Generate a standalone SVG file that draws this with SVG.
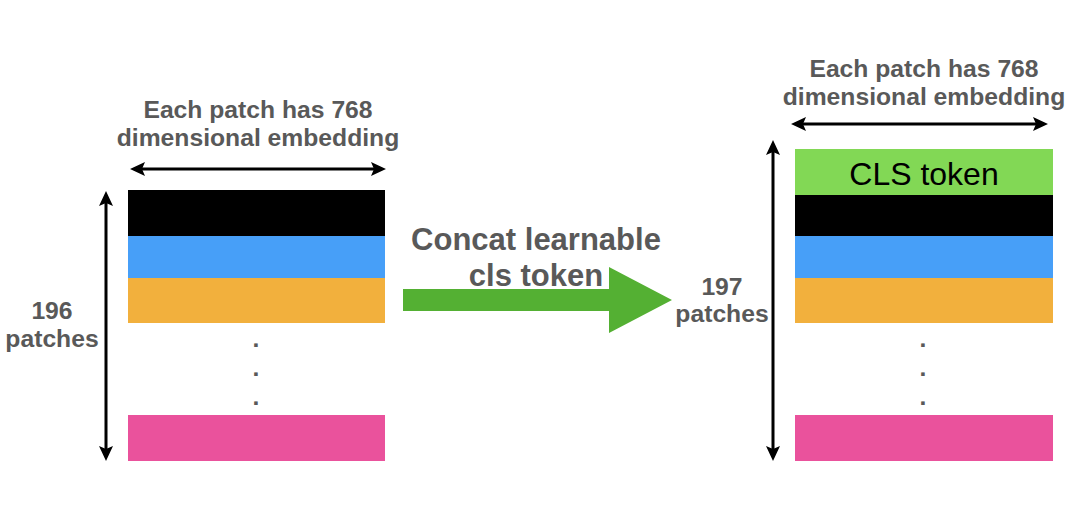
<svg xmlns="http://www.w3.org/2000/svg" width="1081" height="510" viewBox="0 0 1081 510">
  <style>
    .lbl { font-family: "Liberation Sans", Arial, sans-serif; font-weight: bold; fill: #595959; text-anchor: middle; }
    .small { font-size: 24.7px; }
    .big { font-size: 31px; }
    .dim { stroke: #000; stroke-width: 3; fill: none; marker-start: url(#ah); marker-end: url(#ah); }
    .cls { font-family: "Liberation Sans", Arial, sans-serif; font-size: 32px; fill: #000; text-anchor: middle; }
  </style>
  <defs>
    <marker id="ah" viewBox="0 0 15 14" refX="11" refY="7" markerWidth="15" markerHeight="14" markerUnits="userSpaceOnUse" orient="auto-start-reverse">
      <path d="M0,0 L15,7 L0,14 L3,7 Z" fill="#000"/>
    </marker>
  </defs>
  <rect width="1081" height="510" fill="#fff"/>

  <g id="connectors">
    <line class="dim" x1="134" y1="169" x2="382" y2="169"/>
    <line class="dim" x1="106" y1="195" x2="106" y2="457"/>
    <line class="dim" x1="795" y1="124" x2="1044" y2="124"/>
    <line class="dim" x1="773" y1="144" x2="773" y2="457"/>
    <polygon id="concat-arrow" points="403,289 609,289 609,267 672,300 609,333 609,311 403,311" fill="#54b033"/>
  </g>

  <g id="left-stack">
    <rect x="128" y="190" width="257" height="46" fill="#000"/>
    <rect x="128" y="236" width="257" height="42" fill="#479ff8"/>
    <rect x="128" y="278" width="257" height="45" fill="#f2b03d"/>
    <rect x="128" y="415" width="257" height="46" fill="#ea529c"/>
    <text class="lbl small" x="256"><tspan x="256" y="347">.</tspan><tspan x="256" y="376">.</tspan><tspan x="256" y="405">.</tspan></text>
  </g>

  <g id="left-labels">
    <text class="lbl small"><tspan x="258" y="118">Each patch has 768</tspan><tspan x="258" y="146">dimensional embedding</tspan></text>
    <text class="lbl small"><tspan x="52" y="319">196</tspan><tspan x="52" y="347">patches</tspan></text>
  </g>

  <g id="concat-label">
    <text class="lbl big"><tspan x="536" y="250">Concat learnable</tspan><tspan x="536" y="286">cls token</tspan></text>
  </g>

  <g id="right-stack">
    <rect x="795" y="149" width="258" height="46" fill="#82d855"/>
    <text class="cls" x="924" y="185">CLS token</text>
    <rect x="795" y="195" width="258" height="41" fill="#000"/>
    <rect x="795" y="236" width="258" height="42" fill="#479ff8"/>
    <rect x="795" y="278" width="258" height="45" fill="#f2b03d"/>
    <rect x="795" y="415" width="258" height="46" fill="#ea529c"/>
    <text class="lbl small"><tspan x="923" y="347">.</tspan><tspan x="923" y="376">.</tspan><tspan x="923" y="405">.</tspan></text>
  </g>

  <g id="right-labels">
    <text class="lbl small"><tspan x="924" y="77">Each patch has 768</tspan><tspan x="924" y="105">dimensional embedding</tspan></text>
    <text class="lbl small"><tspan x="722" y="295">197</tspan><tspan x="722" y="322">patches</tspan></text>
  </g>
</svg>
